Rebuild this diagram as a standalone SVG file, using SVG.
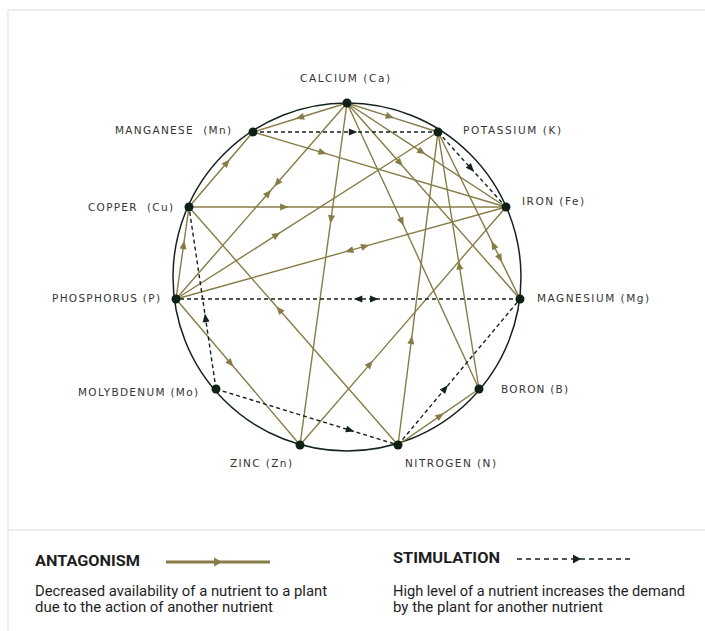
<svg xmlns="http://www.w3.org/2000/svg" width="705" height="631" viewBox="0 0 705 631">
  <style>
    .ant { fill: none; stroke: #877c47; stroke-width: 1.4; }
    .ant-ghost { fill: none; stroke: none; }
    .stim { fill: none; stroke: #14241a; stroke-width: 1.4; stroke-dasharray: 4 3; }
    .dot { fill: #0f2016; }
    .lbl { font-family: "DejaVu Sans", "Noto Sans", sans-serif; font-size: 10.5px; fill: #353535; }
    .head { font-family: "Liberation Sans Narrow", "Roboto", sans-serif; font-weight: 700; font-size: 15px; fill: #1e1e1e; }
    .desc { font-family: "Liberation Sans Narrow", "Roboto", sans-serif; font-size: 14px; fill: #1e1e1e; }
  </style>
  <defs>
    <marker id="ah-ant" markerUnits="userSpaceOnUse" markerWidth="10" markerHeight="10" viewBox="-5 -5 10 10" refX="0" refY="0" orient="auto">
      <path d="M-4,-3.5 L4.5,0 L-4,3.5 Z" fill="#877c47"/>
    </marker>
    <marker id="ah-stim" markerUnits="userSpaceOnUse" markerWidth="10" markerHeight="10" viewBox="-5 -5 10 10" refX="0" refY="0" orient="auto">
      <path d="M-4,-3.5 L4.5,0 L-4,3.5 Z" fill="#14241a"/>
    </marker>
  </defs>

  <rect width="705" height="631" fill="#ffffff"/>
  <!-- faint frame and legend separator -->
  <g stroke="#eeeeee" stroke-width="2" fill="none">
    <line x1="8" y1="10" x2="705" y2="10"/>
    <line x1="8" y1="10" x2="8" y2="631"/>
    <line x1="8" y1="530" x2="705" y2="530"/>
  </g>

  <!-- outer ring -->
  <circle cx="347" cy="277" r="174" fill="none" stroke="#14241a" stroke-width="1.5"/>

  <g id="connectors">
    <!-- antagonism: from, arrow point, to -->
    <polyline class="ant" marker-mid="url(#ah-ant)" points="347,103 300,117.5 253,132"/>
    <polyline class="ant" marker-mid="url(#ah-ant)" points="347,103 389.8,116.6 438,132"/>
    <polyline class="ant" marker-mid="url(#ah-ant)" points="189,207 226.8,162.8 253,132"/>
    <polyline class="ant" marker-mid="url(#ah-ant)" points="253,132 322.6,152.6 506,207"/>
    <polyline class="ant" marker-mid="url(#ah-ant)" points="189,207 284.1,207 506,207"/>
    <polyline class="ant" marker-mid="url(#ah-ant)" points="347,103 277.2,183 176,299"/>
    <polyline class="ant-ghost" marker-mid="url(#ah-ant)" points="176,299 268.3,193.2 347,103"/>
    <polyline class="ant" marker-mid="url(#ah-ant)" points="176,299 276.6,234.9 438,132"/>
    <polyline class="ant" marker-mid="url(#ah-ant)" points="506,207 349.3,250.7 176,299"/>
    <polyline class="ant-ghost" marker-mid="url(#ah-ant)" points="176,299 365.1,246.3 506,207"/>
    <polyline class="ant" marker-mid="url(#ah-ant)" points="176,299 183.6,245 189,207"/>
    <polyline class="ant" marker-mid="url(#ah-ant)" points="176,299 230.6,363.2 300,445"/>
    <polyline class="ant" marker-mid="url(#ah-ant)" points="398,445 279.3,309.8 189,207"/>
    <polyline class="ant" marker-mid="url(#ah-ant)" points="347,103 331,219.3 300,445"/>
    <polyline class="ant" marker-mid="url(#ah-ant)" points="300,445 370,364.1 506,207"/>
    <polyline class="ant" marker-mid="url(#ah-ant)" points="398,445 411.4,340.1 438,132"/>
    <polyline class="ant" marker-mid="url(#ah-ant)" points="398,445 440.1,415.9 479,389"/>
    <polyline class="ant" marker-mid="url(#ah-ant)" points="347,103 401.8,221.7 479,389"/>
    <polyline class="ant" marker-mid="url(#ah-ant)" points="479,389 459.3,265.6 438,132"/>
    <polyline class="ant" marker-mid="url(#ah-ant)" points="347,103 399.9,163 520,299"/>
    <polyline class="ant" marker-mid="url(#ah-ant)" points="347,103 421.7,151.9 506,207"/>
    <polyline class="ant" marker-mid="url(#ah-ant)" points="520,299 493.5,245.1 438,132"/>
    <polyline class="ant-ghost" marker-mid="url(#ah-ant)" points="438,132 500,258.3 520,299"/>

    <!-- stimulation -->
    <polyline class="stim" marker-mid="url(#ah-stim)" points="253,132 352.9,132 438,132"/>
    <polyline class="stim" marker-mid="url(#ah-stim)" points="438,132 471,168.4 506,207"/>
    <polyline class="stim" marker-mid="url(#ah-stim)" points="216,389 205.5,318 189,207"/>
    <polyline class="stim" marker-mid="url(#ah-stim)" points="520,299 358.3,299 176,299"/>
    <polyline class="ant-ghost" marker-mid="url(#ah-stim)" points="176,299 374,299 520,299"/>
    <polyline class="stim" marker-mid="url(#ah-stim)" points="216,389 350,430.2 398,445"/>
    <polyline class="stim" marker-mid="url(#ah-stim)" points="398,445 445,388.8 520,299"/>
  </g>

  <g id="node-ca"><circle class="dot" cx="347" cy="103" r="4.5"/><text class="lbl" x="300" y="82" textLength="90" lengthAdjust="spacing">CALCIUM (Ca)</text></g>
  <g id="node-mn"><circle class="dot" cx="253" cy="132" r="4.5"/><text class="lbl" x="115" y="134" textLength="116" lengthAdjust="spacing" xml:space="preserve">MANGANESE  (Mn)</text></g>
  <g id="node-k"><circle class="dot" cx="438" cy="132" r="4.5"/><text class="lbl" x="463" y="134" textLength="98" lengthAdjust="spacing">POTASSIUM (K)</text></g>
  <g id="node-cu"><circle class="dot" cx="189" cy="207" r="4.5"/><text class="lbl" x="88" y="211" textLength="85" lengthAdjust="spacing" xml:space="preserve">COPPER  (Cu)</text></g>
  <g id="node-fe"><circle class="dot" cx="506" cy="207" r="4.5"/><text class="lbl" x="522" y="205" textLength="62" lengthAdjust="spacing">IRON (Fe)</text></g>
  <g id="node-p"><circle class="dot" cx="176" cy="299" r="4.5"/><text class="lbl" x="52" y="302" textLength="108" lengthAdjust="spacing">PHOSPHORUS (P)</text></g>
  <g id="node-mg"><circle class="dot" cx="520" cy="299" r="4.5"/><text class="lbl" x="537" y="302" textLength="112" lengthAdjust="spacing">MAGNESIUM (Mg)</text></g>
  <g id="node-mo"><circle class="dot" cx="216" cy="389" r="4.5"/><text class="lbl" x="78" y="396" textLength="120" lengthAdjust="spacing">MOLYBDENUM (Mo)</text></g>
  <g id="node-b"><circle class="dot" cx="479" cy="389" r="4.5"/><text class="lbl" x="501" y="393" textLength="67" lengthAdjust="spacing">BORON (B)</text></g>
  <g id="node-zn"><circle class="dot" cx="300" cy="445" r="4.5"/><text class="lbl" x="230" y="467" textLength="62" lengthAdjust="spacing">ZINC (Zn)</text></g>
  <g id="node-n"><circle class="dot" cx="398" cy="445" r="4.5"/><text class="lbl" x="405" y="467" textLength="91" lengthAdjust="spacing">NITROGEN (N)</text></g>

  <!-- legend -->
  <g id="legend">
    <text class="head" x="35" y="566" textLength="105" lengthAdjust="spacingAndGlyphs">ANTAGONISM</text>
    <line x1="166" y1="562" x2="270" y2="562" stroke="#877c47" stroke-width="3"/>
    <path d="M214,557.5 L222,562 L214,566.5 Z" fill="#877c47"/>
    <text class="desc" x="35" y="596" textLength="292" lengthAdjust="spacingAndGlyphs">Decreased availability of a nutrient to a plant</text>
    <text class="desc" x="35" y="612" textLength="238" lengthAdjust="spacingAndGlyphs">due to the action of another nutrient</text>

    <text class="head" x="393" y="563" textLength="107" lengthAdjust="spacingAndGlyphs">STIMULATION</text>
    <line x1="517" y1="559" x2="632" y2="559" stroke="#14241a" stroke-width="1.5" stroke-dasharray="5 4"/>
    <path d="M573,554.5 L581,559 L573,563.5 Z" fill="#14241a"/>
    <text class="desc" x="393" y="596" textLength="292" lengthAdjust="spacingAndGlyphs">High level of a nutrient increases the demand</text>
    <text class="desc" x="393" y="612" textLength="210" lengthAdjust="spacingAndGlyphs">by the plant for another nutrient</text>
  </g>
</svg>
